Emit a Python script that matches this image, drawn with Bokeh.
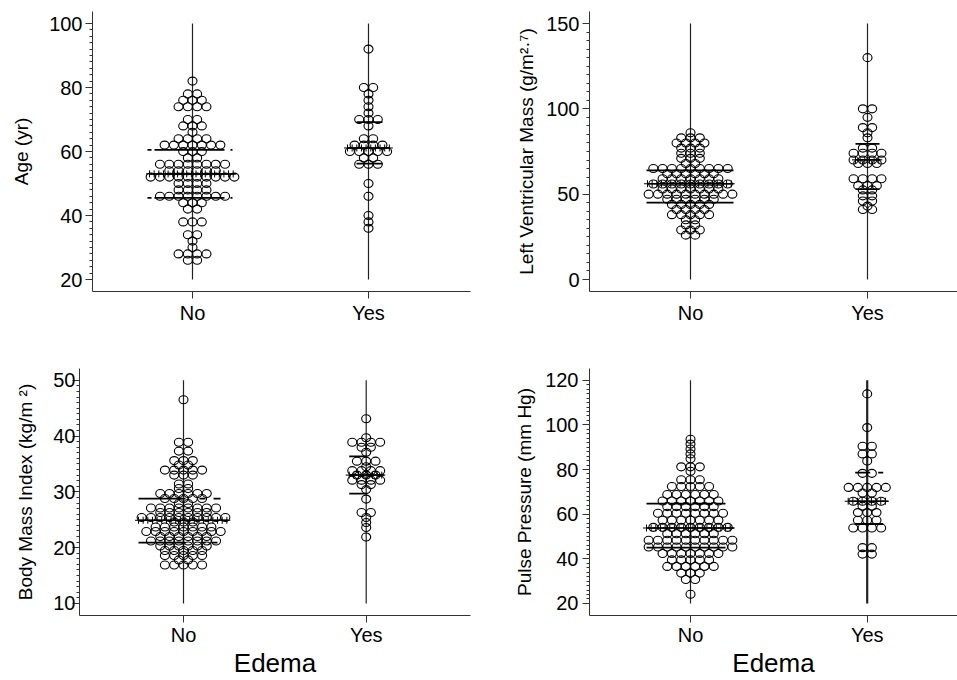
import numpy as np
from bokeh.plotting import figure
from bokeh.layouts import column, row
from bokeh.models import FixedTicker, Range1d
from bokeh.embed import file_html
from bokeh.resources import INLINE

# ---------------- data ----------------
CATEGORIES = ["No", "Yes"]
X_TITLE = "Edema"

# Age (yr): binned values and number of dots in each row
AGE_NO_VALUES = [82, 78, 76, 74, 70, 68, 66, 64, 62, 60, 58, 56, 54, 52, 50, 48, 46, 44, 42, 38, 34, 32, 30, 28, 26]
AGE_NO_COUNTS = [1, 2, 3, 4, 2, 3, 1, 4, 7, 3, 2, 8, 6, 10, 4, 4, 8, 3, 2, 3, 2, 1, 1, 4, 2]
AGE_YES_VALUES = [92, 80, 78, 76, 74, 72, 70, 68, 64, 62, 60, 58, 56, 50, 46, 40, 38, 36]
AGE_YES_COUNTS = [1, 2, 1, 1, 1, 1, 3, 1, 2, 4, 5, 2, 3, 1, 1, 1, 1, 1]
AGE_Q1 = [45.5, 56.2]
AGE_MEDIAN = [53.0, 61.1]
AGE_Q3 = [60.5, 69.2]
AGE_TICKS = [20, 40, 60, 80, 100]

# Left ventricular mass (g/m^2.7)
LVM_NO_VALUES = [86, 83, 80, 77, 74, 71, 68, 65, 62, 59, 56, 53, 50, 47, 44, 41, 38, 35, 32, 29, 26]
LVM_NO_COUNTS = [1, 3, 4, 3, 3, 3, 2, 9, 6, 7, 9, 7, 10, 6, 5, 4, 5, 2, 2, 3, 2]
LVM_YES_VALUES = [130, 100, 95, 89, 86, 83, 77, 74, 70, 68, 59, 55, 52.5, 49, 46, 43, 41]
LVM_YES_COUNTS = [1, 2, 1, 2, 1, 1, 2, 4, 4, 3, 4, 3, 2, 2, 2, 1, 2]
LVM_Q1 = [45.0, 53.0]
LVM_MEDIAN = [56.1, 70.1]
LVM_Q3 = [63.9, 79.5]
LVM_TICKS = [0, 50, 100, 150]

# Body mass index (kg/m^2)
BMI_NO_VALUES = [46.5, 38.9, 37.3, 35.6, 34.8, 33.9, 33.0, 31.4, 30.6, 29.7, 28.8, 27.9, 27.1, 26.3, 25.4,
                 24.6, 23.7, 22.9, 22.0, 21.2, 20.3, 19.5, 18.6, 17.8, 16.9]
BMI_NO_COUNTS = [1, 2, 2, 3, 2, 5, 3, 2, 2, 6, 5, 2, 8, 6, 10, 3, 7, 9, 6, 8, 6, 5, 5, 2, 5]
BMI_YES_VALUES = [43.1, 39.7, 38.9, 38.0, 37.1, 35.5, 34.5, 33.8, 33.0, 32.1, 31.3, 30.4, 28.7, 26.3, 25.4,
                  24.5, 23.6, 21.9]
BMI_YES_COUNTS = [1, 1, 4, 2, 1, 3, 1, 4, 3, 4, 2, 1, 1, 2, 1, 1, 1, 1]
BMI_Q1 = [20.9, 29.7]
BMI_MEDIAN = [24.9, 33.0]
BMI_Q3 = [28.8, 36.35]
BMI_TICKS = [10, 20, 30, 40, 50]

# Pulse pressure (mm Hg)
PP_NO_VALUES = [93.6, 91.4, 89.2, 87.0, 84.8, 81.2, 79.2, 75.4, 72.4, 68.8, 65.9, 63.4, 60.4, 57.3, 54.1,
                51.2, 48.3, 45.3, 42.4, 39.5, 36.6, 33.6, 30.7, 24.1]
PP_NO_COUNTS = [1, 1, 1, 1, 1, 3, 1, 3, 5, 6, 7, 6, 8, 7, 9, 6, 10, 10, 7, 5, 6, 3, 2, 1]
PP_YES_VALUES = [113.9, 98.8, 90.4, 87.0, 83.8, 78.3, 72.0, 69.5, 65.8, 63.6, 60.7, 57.3, 53.8, 45.0, 42.1]
PP_YES_COUNTS = [1, 1, 2, 2, 1, 2, 5, 2, 4, 2, 3, 3, 4, 2, 2]
PP_Q1 = [45.0, 55.6]
PP_MEDIAN = [53.8, 65.8]
PP_Q3 = [64.7, 78.6]
PP_TICKS = [20, 40, 60, 80, 100, 120]

# ---------------- layout / style constants (pixels) ----------------
FONT = "Liberation Sans"
AXIS_COLOR = "#333333"
DOT_DX = 9.3          # horizontal spacing of dots in a row (px)
DOT_W, DOT_H = 9, 8   # dot size (px)

PANELS = [
    dict(ylabel="Age (yr)", no_vals=AGE_NO_VALUES, no_cnt=AGE_NO_COUNTS,
         yes_vals=AGE_YES_VALUES, yes_cnt=AGE_YES_COUNTS, q1=AGE_Q1, med=AGE_MEDIAN, q3=AGE_Q3,
         ticks=AGE_TICKS, minor_step=2,
         page=(0, 0, 478, 340), frame=(92, 470, 11, 291), cats_px=(192, 368),
         tick_px=(23, 279), lab_std=3, ax_std=14, xlab_std=3,
         qhalf=[(45, 40), (12, 14)], mhalf=[(43, 43), (21, 21)], vline_w=[1.2, 1.2],
         qdash=[("4 3 70 6", "4 3 70 6"), ("solid", "solid")], title=False),
    dict(ylabel="Left Ventricular Mass (g/m²·⁷)", no_vals=LVM_NO_VALUES, no_cnt=LVM_NO_COUNTS,
         yes_vals=LVM_YES_VALUES, yes_cnt=LVM_YES_COUNTS, q1=LVM_Q1, med=LVM_MEDIAN, q3=LVM_Q3,
         ticks=LVM_TICKS, minor_step=5,
         page=(478, 0, 479, 340), frame=(589, 957, 11, 291), cats_px=(690, 867),
         tick_px=(23, 279), lab_std=3, ax_std=6, xlab_std=3,
         qhalf=[(44, 43), (12, 12)], mhalf=[(43, 43), (12, 13)], vline_w=[1.2, 1.2],
         qdash=[("solid", "solid"), ("solid", "solid")], title=False),
    dict(ylabel="Body Mass Index (kg/m ²)", no_vals=BMI_NO_VALUES, no_cnt=BMI_NO_COUNTS,
         yes_vals=BMI_YES_VALUES, yes_cnt=BMI_YES_COUNTS, q1=BMI_Q1, med=BMI_MEDIAN, q3=BMI_Q3,
         ticks=BMI_TICKS, minor_step=1,
         page=(0, 340, 478, 340), frame=(79, 470, 368, 620), cats_px=(183, 365.7),
         tick_px=(380, 607.7), lab_std=-3, ax_std=14, xlab_std=1,
         qhalf=[(45, 37), (17, 1)], mhalf=[(45, 45), (17, 18)], vline_w=[1.2, 1.2],
         qdash=[("47 15 5 6 6 30", "47 14 6 8 7 30"), ("solid", "solid")], title=True),
    dict(ylabel="Pulse Pressure (mm Hg)", no_vals=PP_NO_VALUES, no_cnt=PP_NO_COUNTS,
         yes_vals=PP_YES_VALUES, yes_cnt=PP_YES_COUNTS, q1=PP_Q1, med=PP_MEDIAN, q3=PP_Q3,
         ticks=PP_TICKS, minor_step=2,
         page=(478, 340, 479, 340), frame=(589, 957, 368, 620), cats_px=(690, 866.7),
         tick_px=(380, 607.7), lab_std=4, ax_std=7, xlab_std=1,
         qhalf=[(44, 35), (12, 16)], mhalf=[(44, 44), (19, 21)], vline_w=[1.2, 2.2],
         qdash=[("solid", "20 3"), ("solid", "15 8 5 30")], title=True),
]


def build(cfg):
    px, py, W, H = cfg["page"]
    fl, fr, ft, fb = cfg["frame"]
    no_px, yes_px = cfg["cats_px"]
    unit = yes_px - no_px
    x0 = 1 - (no_px - fl) / unit
    x1 = 2 + (fr - yes_px) / unit
    ticks = cfg["ticks"]
    t_top, t_bot = cfg["tick_px"]
    ppu = (t_bot - t_top) / (ticks[-1] - ticks[0])
    y1 = ticks[-1] + (t_top - ft) / ppu
    y0 = ticks[0] - (fb - t_bot) / ppu

    p = figure(width=W, height=H, x_range=Range1d(x0, x1), y_range=Range1d(y0, y1),
               output_backend="svg", toolbar_location=None,
               min_border_left=int(fl - px), min_border_right=int(px + W - fr),
               min_border_top=int(ft - py), min_border_bottom=int(py + H - fb))
    p.outline_line_color = None
    p.xgrid.visible = False
    p.ygrid.visible = False
    p.background_fill_color = "white"
    p.border_fill_color = "white"

    # y axis
    ya = p.yaxis[0]
    minor = [float(v) for v in np.arange(ticks[0], ticks[-1] + 1e-9, cfg["minor_step"])]
    ya.ticker = FixedTicker(ticks=ticks, minor_ticks=minor)
    ya.axis_label = cfg["ylabel"]
    ya.axis_label_text_font = FONT
    ya.axis_label_text_font_size = "19px"
    ya.axis_label_text_font_style = "normal"
    ya.axis_label_text_color = "black"
    ya.axis_label_standoff = cfg["ax_std"]
    ya.major_label_text_font = FONT
    ya.major_label_text_font_size = "20px"
    ya.major_label_text_color = "black"
    ya.major_label_standoff = cfg["lab_std"]
    ya.axis_line_color = AXIS_COLOR
    ya.major_tick_line_color = AXIS_COLOR
    ya.minor_tick_line_color = AXIS_COLOR
    ya.major_tick_in = 0
    ya.major_tick_out = 7
    ya.minor_tick_in = 0
    ya.minor_tick_out = 3

    # x axis
    xa = p.xaxis[0]
    xa.ticker = FixedTicker(ticks=[1, 2], minor_ticks=[])
    xa.major_label_overrides = {1: CATEGORIES[0], 2: CATEGORIES[1]}
    xa.major_label_text_font = FONT
    xa.major_label_text_font_size = "20px"
    xa.major_label_text_color = "black"
    xa.major_label_standoff = cfg["xlab_std"]
    xa.axis_line_color = AXIS_COLOR
    xa.major_tick_line_color = AXIS_COLOR
    xa.major_tick_in = 0
    xa.major_tick_out = 7
    xa.minor_tick_line_color = None
    if cfg["title"]:
        xa.axis_label = X_TITLE
        xa.axis_label_text_font = FONT
        xa.axis_label_text_font_size = "26px"
        xa.axis_label_text_font_style = "normal"
        xa.axis_label_text_color = "black"
        xa.axis_label_standoff = -1

    groups = [(cfg["no_vals"], cfg["no_cnt"]), (cfg["yes_vals"], cfg["yes_cnt"])]
    for gi, (vals, cnts) in enumerate(groups):
        c = gi + 1
        # vertical guide line through the category
        p.segment(x0=[c], y0=[ticks[0]], x1=[c], y1=[ticks[-1]],
                  line_color="#222222", line_width=cfg["vline_w"][gi])
        # dots
        xs, ys = [], []
        for v, n in zip(vals, cnts):
            for i in range(n):
                xs.append(c + (i - (n - 1) / 2) * DOT_DX / unit)
                ys.append(v)
        p.ellipse(x=xs, y=ys, width=DOT_W, height=DOT_H, width_units="screen", height_units="screen",
                  fill_color=None, line_color="black", line_width=1.1)
        # quartile lines (drawn left to right so that dash patterns start at the left end)
        ql, qr = cfg["qhalf"][gi]
        for qv, dash in zip((cfg["q1"][gi], cfg["q3"][gi]), cfg["qdash"][gi]):
            p.line(x=[c - ql / unit, c + qr / unit], y=[qv, qv],
                   line_color="black", line_width=1.8, line_dash=dash)
        # median line with plus marks
        ml, mr = cfg["mhalf"][gi]
        mv = cfg["med"][gi]
        p.line(x=[c - ml / unit, c + mr / unit], y=[mv, mv], line_color="black", line_width=1.5)
        offs = np.arange(-ml, mr + 0.01, DOT_DX / 2)
        p.scatter(x=[float(c + o / unit) for o in offs], y=[mv] * len(offs), marker="cross", size=7,
                  line_color="black", line_width=1)
    return p


figs = [build(c) for c in PANELS]
layout = column(row(figs[0], figs[1]), row(figs[2], figs[3]))
open("out.html", "w").write(file_html(layout, INLINE))
